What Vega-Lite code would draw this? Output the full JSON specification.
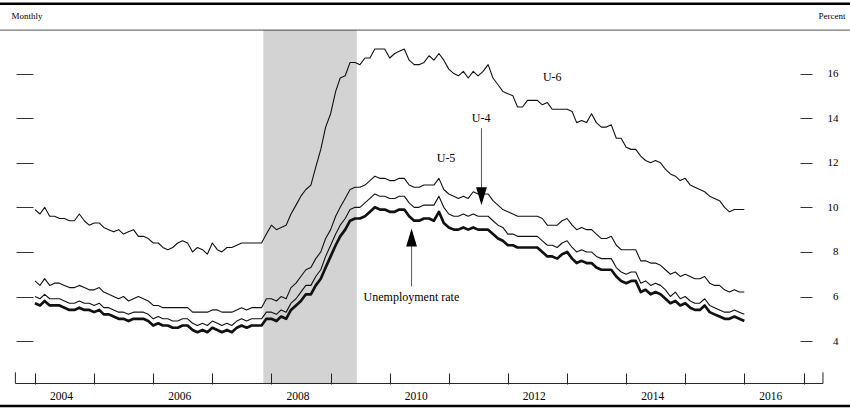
{
  "$schema": "https://vega.github.io/schema/vega-lite/v6.json",
  "width": 850,
  "height": 408,
  "autosize": {"type": "none"},
  "padding": 0,
  "background": "white",
  "config": {"view": {"stroke": null}, "font": "Liberation Serif", "axis": {"grid": false}},
  "datasets": {
    "rates": [
      {"d":"2004-01","u3":5.7,"u4":6.0,"u5":6.7,"u6":9.9},{"d":"2004-02","u3":5.6,"u4":5.9,"u5":6.5,"u6":9.7},{"d":"2004-03","u3":5.8,"u4":6.1,"u5":6.8,"u6":10.0},{"d":"2004-04","u3":5.6,"u4":5.9,"u5":6.5,"u6":9.6},{"d":"2004-05","u3":5.6,"u4":5.9,"u5":6.6,"u6":9.6},{"d":"2004-06","u3":5.6,"u4":5.9,"u5":6.6,"u6":9.5},{"d":"2004-07","u3":5.5,"u4":5.8,"u5":6.5,"u6":9.5},{"d":"2004-08","u3":5.4,"u4":5.7,"u5":6.4,"u6":9.4},{"d":"2004-09","u3":5.4,"u4":5.7,"u5":6.4,"u6":9.4},{"d":"2004-10","u3":5.5,"u4":5.8,"u5":6.5,"u6":9.7},{"d":"2004-11","u3":5.4,"u4":5.7,"u5":6.4,"u6":9.4},{"d":"2004-12","u3":5.4,"u4":5.7,"u5":6.3,"u6":9.2},
      {"d":"2005-01","u3":5.3,"u4":5.6,"u5":6.3,"u6":9.3},{"d":"2005-02","u3":5.4,"u4":5.7,"u5":6.4,"u6":9.3},{"d":"2005-03","u3":5.2,"u4":5.5,"u5":6.2,"u6":9.1},{"d":"2005-04","u3":5.2,"u4":5.5,"u5":6.1,"u6":9.0},{"d":"2005-05","u3":5.1,"u4":5.4,"u5":6.0,"u6":8.9},{"d":"2005-06","u3":5.0,"u4":5.3,"u5":5.9,"u6":9.0},{"d":"2005-07","u3":5.0,"u4":5.3,"u5":6.0,"u6":8.8},{"d":"2005-08","u3":4.9,"u4":5.2,"u5":5.8,"u6":8.9},{"d":"2005-09","u3":5.0,"u4":5.3,"u5":5.9,"u6":9.0},{"d":"2005-10","u3":5.0,"u4":5.3,"u5":6.0,"u6":8.7},{"d":"2005-11","u3":5.0,"u4":5.3,"u5":5.9,"u6":8.7},{"d":"2005-12","u3":4.9,"u4":5.2,"u5":5.8,"u6":8.6},
      {"d":"2006-01","u3":4.7,"u4":5.0,"u5":5.6,"u6":8.4},{"d":"2006-02","u3":4.8,"u4":5.1,"u5":5.6,"u6":8.4},{"d":"2006-03","u3":4.7,"u4":5.0,"u5":5.5,"u6":8.2},{"d":"2006-04","u3":4.7,"u4":5.0,"u5":5.5,"u6":8.1},{"d":"2006-05","u3":4.6,"u4":4.9,"u5":5.5,"u6":8.2},{"d":"2006-06","u3":4.6,"u4":4.9,"u5":5.5,"u6":8.4},{"d":"2006-07","u3":4.7,"u4":5.0,"u5":5.5,"u6":8.5},{"d":"2006-08","u3":4.7,"u4":5.0,"u5":5.5,"u6":8.4},{"d":"2006-09","u3":4.5,"u4":4.8,"u5":5.3,"u6":8.0},{"d":"2006-10","u3":4.4,"u4":4.7,"u5":5.3,"u6":8.2},{"d":"2006-11","u3":4.5,"u4":4.8,"u5":5.3,"u6":8.1},{"d":"2006-12","u3":4.4,"u4":4.7,"u5":5.3,"u6":7.9},
      {"d":"2007-01","u3":4.6,"u4":4.9,"u5":5.4,"u6":8.4},{"d":"2007-02","u3":4.5,"u4":4.8,"u5":5.4,"u6":8.1},{"d":"2007-03","u3":4.4,"u4":4.7,"u5":5.3,"u6":8.0},{"d":"2007-04","u3":4.5,"u4":4.8,"u5":5.3,"u6":8.2},{"d":"2007-05","u3":4.4,"u4":4.7,"u5":5.3,"u6":8.2},{"d":"2007-06","u3":4.6,"u4":4.9,"u5":5.4,"u6":8.3},{"d":"2007-07","u3":4.7,"u4":5.0,"u5":5.5,"u6":8.4},{"d":"2007-08","u3":4.6,"u4":4.9,"u5":5.4,"u6":8.4},{"d":"2007-09","u3":4.7,"u4":5.0,"u5":5.5,"u6":8.4},{"d":"2007-10","u3":4.7,"u4":5.0,"u5":5.5,"u6":8.4},{"d":"2007-11","u3":4.7,"u4":5.0,"u5":5.5,"u6":8.4},{"d":"2007-12","u3":5.0,"u4":5.3,"u5":5.9,"u6":8.8},
      {"d":"2008-01","u3":5.0,"u4":5.3,"u5":5.9,"u6":9.2},{"d":"2008-02","u3":4.9,"u4":5.2,"u5":5.8,"u6":9.0},{"d":"2008-03","u3":5.1,"u4":5.4,"u5":6.0,"u6":9.1},{"d":"2008-04","u3":5.0,"u4":5.3,"u5":5.9,"u6":9.2},{"d":"2008-05","u3":5.4,"u4":5.7,"u5":6.4,"u6":9.7},{"d":"2008-06","u3":5.6,"u4":5.9,"u5":6.6,"u6":10.1},{"d":"2008-07","u3":5.8,"u4":6.2,"u5":6.9,"u6":10.5},{"d":"2008-08","u3":6.1,"u4":6.5,"u5":7.2,"u6":10.8},{"d":"2008-09","u3":6.1,"u4":6.5,"u5":7.3,"u6":11.0},{"d":"2008-10","u3":6.5,"u4":6.9,"u5":7.7,"u6":11.8},{"d":"2008-11","u3":6.8,"u4":7.2,"u5":8.0,"u6":12.6},{"d":"2008-12","u3":7.3,"u4":7.8,"u5":8.6,"u6":13.6},
      {"d":"2009-01","u3":7.8,"u4":8.3,"u5":9.0,"u6":14.2},{"d":"2009-02","u3":8.3,"u4":8.8,"u5":9.6,"u6":15.2},{"d":"2009-03","u3":8.7,"u4":9.2,"u5":10.0,"u6":15.8},{"d":"2009-04","u3":9.0,"u4":9.5,"u5":10.4,"u6":15.9},{"d":"2009-05","u3":9.4,"u4":9.9,"u5":10.8,"u6":16.5},{"d":"2009-06","u3":9.5,"u4":10.0,"u5":10.9,"u6":16.5},{"d":"2009-07","u3":9.5,"u4":10.0,"u5":10.9,"u6":16.4},{"d":"2009-08","u3":9.6,"u4":10.2,"u5":11.0,"u6":16.7},{"d":"2009-09","u3":9.8,"u4":10.4,"u5":11.2,"u6":16.7},{"d":"2009-10","u3":10.0,"u4":10.6,"u5":11.4,"u6":17.1},{"d":"2009-11","u3":9.9,"u4":10.5,"u5":11.3,"u6":17.1},{"d":"2009-12","u3":9.9,"u4":10.5,"u5":11.3,"u6":17.1},
      {"d":"2010-01","u3":9.8,"u4":10.4,"u5":11.2,"u6":16.7},{"d":"2010-02","u3":9.8,"u4":10.4,"u5":11.2,"u6":16.9},{"d":"2010-03","u3":9.9,"u4":10.5,"u5":11.3,"u6":17.0},{"d":"2010-04","u3":9.9,"u4":10.5,"u5":11.3,"u6":17.1},{"d":"2010-05","u3":9.6,"u4":10.2,"u5":11.0,"u6":16.6},{"d":"2010-06","u3":9.4,"u4":10.0,"u5":10.9,"u6":16.4},{"d":"2010-07","u3":9.4,"u4":10.0,"u5":10.9,"u6":16.4},{"d":"2010-08","u3":9.5,"u4":10.1,"u5":11.0,"u6":16.5},{"d":"2010-09","u3":9.5,"u4":10.1,"u5":11.0,"u6":16.8},{"d":"2010-10","u3":9.4,"u4":10.1,"u5":11.0,"u6":16.6},{"d":"2010-11","u3":9.8,"u4":10.5,"u5":11.3,"u6":16.9},{"d":"2010-12","u3":9.3,"u4":10.0,"u5":10.8,"u6":16.6},
      {"d":"2011-01","u3":9.1,"u4":9.7,"u5":10.6,"u6":16.2},{"d":"2011-02","u3":9.0,"u4":9.6,"u5":10.5,"u6":16.0},{"d":"2011-03","u3":9.0,"u4":9.6,"u5":10.4,"u6":15.9},{"d":"2011-04","u3":9.1,"u4":9.7,"u5":10.5,"u6":16.1},{"d":"2011-05","u3":9.0,"u4":9.6,"u5":10.4,"u6":15.8},{"d":"2011-06","u3":9.1,"u4":9.7,"u5":10.7,"u6":16.1},{"d":"2011-07","u3":9.0,"u4":9.6,"u5":10.6,"u6":15.9},{"d":"2011-08","u3":9.0,"u4":9.6,"u5":10.6,"u6":16.1},{"d":"2011-09","u3":9.0,"u4":9.6,"u5":10.6,"u6":16.4},{"d":"2011-10","u3":8.8,"u4":9.4,"u5":10.3,"u6":15.8},{"d":"2011-11","u3":8.6,"u4":9.2,"u5":10.1,"u6":15.5},{"d":"2011-12","u3":8.5,"u4":9.1,"u5":9.9,"u6":15.2},
      {"d":"2012-01","u3":8.3,"u4":8.8,"u5":9.8,"u6":15.1},{"d":"2012-02","u3":8.3,"u4":8.8,"u5":9.7,"u6":15.0},{"d":"2012-03","u3":8.2,"u4":8.7,"u5":9.6,"u6":14.5},{"d":"2012-04","u3":8.2,"u4":8.7,"u5":9.6,"u6":14.5},{"d":"2012-05","u3":8.2,"u4":8.7,"u5":9.6,"u6":14.8},{"d":"2012-06","u3":8.2,"u4":8.7,"u5":9.6,"u6":14.8},{"d":"2012-07","u3":8.2,"u4":8.7,"u5":9.6,"u6":14.8},{"d":"2012-08","u3":8.0,"u4":8.5,"u5":9.5,"u6":14.6},{"d":"2012-09","u3":7.8,"u4":8.3,"u5":9.2,"u6":14.7},{"d":"2012-10","u3":7.8,"u4":8.3,"u5":9.2,"u6":14.4},{"d":"2012-11","u3":7.7,"u4":8.2,"u5":9.2,"u6":14.4},{"d":"2012-12","u3":7.9,"u4":8.4,"u5":9.4,"u6":14.4},
      {"d":"2013-01","u3":8.0,"u4":8.5,"u5":9.5,"u6":14.4},{"d":"2013-02","u3":7.7,"u4":8.2,"u5":9.2,"u6":14.3},{"d":"2013-03","u3":7.5,"u4":8.0,"u5":9.0,"u6":13.8},{"d":"2013-04","u3":7.6,"u4":8.1,"u5":9.1,"u6":13.9},{"d":"2013-05","u3":7.5,"u4":8.0,"u5":9.0,"u6":13.8},{"d":"2013-06","u3":7.5,"u4":8.0,"u5":9.0,"u6":14.2},{"d":"2013-07","u3":7.3,"u4":7.8,"u5":8.8,"u6":13.8},{"d":"2013-08","u3":7.2,"u4":7.7,"u5":8.6,"u6":13.6},{"d":"2013-09","u3":7.2,"u4":7.7,"u5":8.6,"u6":13.6},{"d":"2013-10","u3":7.2,"u4":7.7,"u5":8.7,"u6":13.7},{"d":"2013-11","u3":6.9,"u4":7.3,"u5":8.3,"u6":13.1},{"d":"2013-12","u3":6.7,"u4":7.1,"u5":8.1,"u6":13.1},
      {"d":"2014-01","u3":6.6,"u4":7.0,"u5":8.1,"u6":12.7},{"d":"2014-02","u3":6.7,"u4":7.1,"u5":8.1,"u6":12.6},{"d":"2014-03","u3":6.7,"u4":7.1,"u5":8.1,"u6":12.6},{"d":"2014-04","u3":6.2,"u4":6.6,"u5":7.6,"u6":12.3},{"d":"2014-05","u3":6.3,"u4":6.7,"u5":7.6,"u6":12.1},{"d":"2014-06","u3":6.1,"u4":6.5,"u5":7.5,"u6":12.0},{"d":"2014-07","u3":6.2,"u4":6.6,"u5":7.5,"u6":12.1},{"d":"2014-08","u3":6.1,"u4":6.5,"u5":7.4,"u6":12.0},{"d":"2014-09","u3":5.9,"u4":6.3,"u5":7.2,"u6":11.7},{"d":"2014-10","u3":5.7,"u4":6.0,"u5":7.0,"u6":11.5},{"d":"2014-11","u3":5.8,"u4":6.2,"u5":7.1,"u6":11.4},{"d":"2014-12","u3":5.6,"u4":5.9,"u5":6.9,"u6":11.2},
      {"d":"2015-01","u3":5.7,"u4":6.0,"u5":7.0,"u6":11.3},{"d":"2015-02","u3":5.5,"u4":5.8,"u5":6.9,"u6":11.0},{"d":"2015-03","u3":5.4,"u4":5.7,"u5":6.8,"u6":10.9},{"d":"2015-04","u3":5.4,"u4":5.7,"u5":6.8,"u6":10.8},{"d":"2015-05","u3":5.6,"u4":5.9,"u5":6.9,"u6":10.7},{"d":"2015-06","u3":5.3,"u4":5.6,"u5":6.6,"u6":10.5},{"d":"2015-07","u3":5.2,"u4":5.5,"u5":6.5,"u6":10.4},{"d":"2015-08","u3":5.1,"u4":5.4,"u5":6.5,"u6":10.3},{"d":"2015-09","u3":5.0,"u4":5.3,"u5":6.3,"u6":10.0},{"d":"2015-10","u3":5.0,"u4":5.3,"u5":6.2,"u6":9.8},{"d":"2015-11","u3":5.1,"u4":5.4,"u5":6.3,"u6":9.9},{"d":"2015-12","u3":5.0,"u4":5.3,"u5":6.2,"u6":9.9},
      {"d":"2016-01","u3":4.9,"u4":5.2,"u5":6.2,"u6":9.9}
    ]
  },
  "resolve": {"axis": {"x": "independent", "y": "independent"}},
  "layer": [
    {
      "data": {"values": [{"s": "2007-11-12", "e": "2009-06-12"}], "format": {"parse": {"s": "utc:'%Y-%m-%d'", "e": "utc:'%Y-%m-%d'"}}},
      "mark": {"type": "rect", "color": "#d3d3d3"},
      "encoding": {
        "x": {"field": "s", "type": "temporal", "scale": {"type": "utc", "domain": [{"year": 2003, "month": 5, "date": 30, "utc": true}, {"year": 2017, "month": 10, "date": 15, "utc": true}]}, "axis": null},
        "x2": {"field": "e"},
        "y": {"datum": 2.1, "type": "quantitative", "scale": {"domain": [1.0, 19.3], "nice": false, "zero": false}, "axis": null},
        "y2": {"datum": 17.95}
      }
    },
    {
      "data": {"values": [{}]},
      "mark": {"type": "rule", "color": "#000", "strokeWidth": 2.6},
      "encoding": {"y": {"datum": 19.13, "type": "quantitative", "scale": {"domain": [1.0, 19.3], "nice": false, "zero": false}, "axis": null}}
    },
    {
      "data": {"values": [{}]},
      "mark": {"type": "rule", "color": "#000", "strokeWidth": 2.6},
      "encoding": {"y": {"datum": 1.09, "type": "quantitative", "scale": {"domain": [1.0, 19.3], "nice": false, "zero": false}, "axis": null}}
    },
    {
      "data": {"values": [{}]},
      "mark": {"type": "rule", "color": "#222", "strokeWidth": 0.8},
      "encoding": {"y": {"datum": 17.95, "type": "quantitative", "scale": {"domain": [1.0, 19.3], "nice": false, "zero": false}, "axis": null}}
    },
    {
      "data": {"values": [{"s": "2003-09-02", "e": "2017-05-01"}], "format": {"parse": {"s": "utc:'%Y-%m-%d'", "e": "utc:'%Y-%m-%d'"}}},
      "mark": {"type": "rule", "color": "#222", "strokeWidth": 1},
      "encoding": {
        "x": {"field": "s", "type": "temporal", "scale": {"type": "utc", "domain": [{"year": 2003, "month": 5, "date": 30, "utc": true}, {"year": 2017, "month": 10, "date": 15, "utc": true}]}, "axis": null},
        "x2": {"field": "e"},
        "y": {"datum": 2.1, "type": "quantitative", "scale": {"domain": [1.0, 19.3], "nice": false, "zero": false}, "axis": null}
      }
    },
    {
      "data": {"values": [{"s": "2003-09-02"}, {"s": "2017-05-01"}], "format": {"parse": {"s": "utc:'%Y-%m-%d'"}}},
      "mark": {"type": "rule", "color": "#222", "strokeWidth": 1},
      "encoding": {
        "x": {"field": "s", "type": "temporal", "scale": {"type": "utc", "domain": [{"year": 2003, "month": 5, "date": 30, "utc": true}, {"year": 2017, "month": 10, "date": 15, "utc": true}]}, "axis": null},
        "y": {"datum": 2.1, "type": "quantitative", "scale": {"domain": [1.0, 19.3], "nice": false, "zero": false}, "axis": null},
        "y2": {"datum": 2.6}
      }
    },
    {
      "data": {"name": "rates", "format": {"parse": {"d": "utc:'%Y-%m'"}}},
      "transform": [{"fold": ["u6", "u5", "u4", "u3"], "as": ["s", "v"]}],
      "mark": {"type": "line", "color": "#111", "strokeJoin": "round"},
      "encoding": {
        "x": {"field": "d", "type": "temporal",
          "scale": {"type": "utc", "domain": [{"year": 2003, "month": 5, "date": 30, "utc": true}, {"year": 2017, "month": 10, "date": 15, "utc": true}]},
          "axis": {"orient": "bottom", "offset": -35, "domain": false, "grid": false, "title": null, "zindex": 1,
            "values": [1072915200000, 1104537600000, 1136073600000, 1167609600000, 1199145600000, 1230768000000, 1262304000000, 1293840000000, 1325376000000, 1356998400000, 1388534400000, 1420070400000, 1451606400000, 1483228800000],
            "tickSize": 11, "tickColor": "#222", "tickWidth": 1,
            "labelExpr": "utcyear(datum.value) % 2 == 0 ? utcFormat(datum.value, '%Y') : ''",
            "labelOffset": 26, "labelPadding": 6, "labelFlush": false, "labelOverlap": false, "labelBound": false,
            "labelFont": "Liberation Serif", "labelFontSize": 11.5, "labelColor": "#000"}},
        "y": {"field": "v", "type": "quantitative", "scale": {"domain": [1.0, 19.3], "nice": false, "zero": false},
          "axis": {"orient": "left", "offset": -33, "domain": false, "grid": false, "labels": false,
            "values": [4, 6, 8, 10, 12, 14, 16], "tickSize": 17, "tickColor": "#333", "tickWidth": 1,
            "title": "Monthly", "titleAngle": 0, "titleX": -22, "titleY": 15, "titleAlign": "left", "titleBaseline": "middle",
            "titleFont": "Liberation Serif", "titleFontSize": 9, "titleFontWeight": "normal", "titleColor": "#000"}},
        "detail": {"field": "s", "type": "nominal"},
        "strokeWidth": {"condition": {"test": "datum.s == 'u3'", "value": 2.7}, "value": 1.1}
      }
    },
    {
      "data": {"values": [
        {"d": "2012-10-01", "v": 15.85, "t": "U-6"},
        {"d": "2011-07-20", "v": 14.0, "t": "U-4"},
        {"d": "2010-12-15", "v": 12.2, "t": "U-5"},
        {"d": "2010-05-15", "v": 5.98, "t": "Unemployment rate"}
      ], "format": {"parse": {"d": "utc:'%Y-%m-%d'"}}},
      "mark": {"type": "text", "font": "Liberation Serif", "fontSize": 12, "color": "#000", "align": "center", "baseline": "middle"},
      "encoding": {
        "x": {"field": "d", "type": "temporal", "scale": {"type": "utc", "domain": [{"year": 2003, "month": 5, "date": 30, "utc": true}, {"year": 2017, "month": 10, "date": 15, "utc": true}]}, "axis": null},
        "y": {"field": "v", "type": "quantitative", "scale": {"domain": [1.0, 19.3], "nice": false, "zero": false},
          "axis": {"orient": "right", "offset": -50, "domain": false, "grid": false,
            "values": [4, 6, 8, 10, 12, 14, 16], "tickSize": 12, "tickColor": "#333", "tickWidth": 1,
            "labelAlign": "right", "labelPadding": 26, "labelFont": "Liberation Serif", "labelFontSize": 11, "labelColor": "#000",
            "title": "Percent", "titleAngle": 0, "titleX": 45, "titleY": 15, "titleAlign": "right", "titleBaseline": "middle",
            "titleFont": "Liberation Serif", "titleFontSize": 9, "titleFontWeight": "normal", "titleColor": "#000"}},
        "text": {"field": "t"}
      }
    },
    {
      "data": {"values": [
        {"d": "2011-07-22", "v": 13.55, "v2": 10.8},
        {"d": "2010-05-16", "v": 6.45, "v2": 8.5}
      ], "format": {"parse": {"d": "utc:'%Y-%m-%d'"}}},
      "mark": {"type": "rule", "color": "#444", "strokeWidth": 0.9},
      "encoding": {
        "x": {"field": "d", "type": "temporal", "scale": {"type": "utc", "domain": [{"year": 2003, "month": 5, "date": 30, "utc": true}, {"year": 2017, "month": 10, "date": 15, "utc": true}]}, "axis": null},
        "y": {"field": "v", "type": "quantitative", "scale": {"domain": [1.0, 19.3], "nice": false, "zero": false}, "axis": null},
        "y2": {"field": "v2"}
      }
    },
    {
      "data": {"values": [{"d": "2011-07-22", "v": 10.5}], "format": {"parse": {"d": "utc:'%Y-%m-%d'"}}},
      "mark": {"type": "point", "filled": true, "color": "#000", "opacity": 1, "size": 324, "shape": "M-0.6,-1L0.6,-1L0,1Z"},
      "encoding": {
        "x": {"field": "d", "type": "temporal", "scale": {"type": "utc", "domain": [{"year": 2003, "month": 5, "date": 30, "utc": true}, {"year": 2017, "month": 10, "date": 15, "utc": true}]}, "axis": null},
        "y": {"field": "v", "type": "quantitative", "scale": {"domain": [1.0, 19.3], "nice": false, "zero": false}, "axis": null}
      }
    },
    {
      "data": {"values": [{"d": "2010-05-16", "v": 8.65}], "format": {"parse": {"d": "utc:'%Y-%m-%d'"}}},
      "mark": {"type": "point", "filled": true, "color": "#000", "opacity": 1, "size": 324, "shape": "M-0.6,1L0.6,1L0,-1Z"},
      "encoding": {
        "x": {"field": "d", "type": "temporal", "scale": {"type": "utc", "domain": [{"year": 2003, "month": 5, "date": 30, "utc": true}, {"year": 2017, "month": 10, "date": 15, "utc": true}]}, "axis": null},
        "y": {"field": "v", "type": "quantitative", "scale": {"domain": [1.0, 19.3], "nice": false, "zero": false}, "axis": null}
      }
    }
  ]
}
